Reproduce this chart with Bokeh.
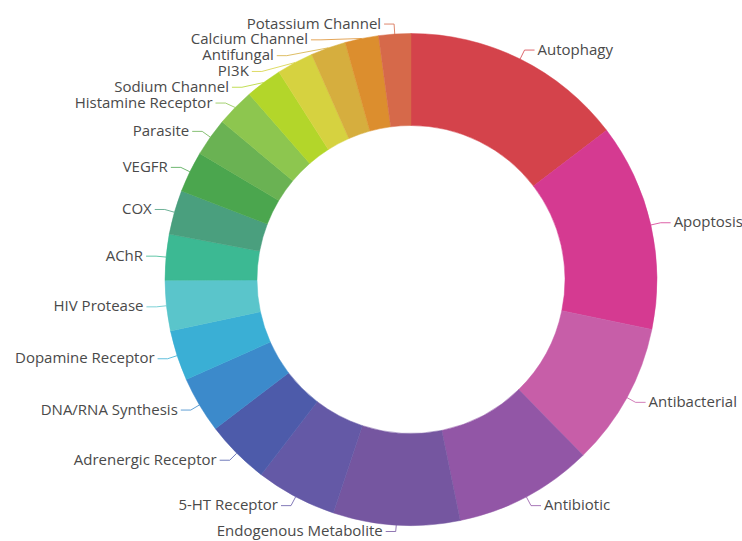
import numpy as np
from bokeh.plotting import figure
from bokeh.models import ColumnDataSource, Range1d
from bokeh.core.properties import value
from bokeh.embed import file_html
from bokeh.resources import INLINE

categories = ["Autophagy", "Apoptosis", "Antibacterial", "Antibiotic",
              "Endogenous Metabolite", "5-HT Receptor", "Adrenergic Receptor",
              "DNA/RNA Synthesis", "Dopamine Receptor", "HIV Protease", "AChR",
              "COX", "VEGFR", "Parasite", "Histamine Receptor", "Sodium Channel",
              "PI3K", "Antifungal", "Calcium Channel", "Potassium Channel"]
counts = [146, 136, 94, 91, 83, 53, 42, 37, 33, 33, 30, 29, 27, 25, 25, 24, 24, 23, 22, 21]
colors = ["#D4434B", "#D53A91", "#C75EA8", "#9256A6", "#7556A0", "#6459A6",
          "#4D5BAA", "#3C8ACB", "#3AAFD5", "#5AC5CB", "#3CB993", "#4A9F7E",
          "#4BA64E", "#6AB253", "#8DC64F", "#B3D62A", "#D6D240", "#D6AE3E",
          "#DC8E2E", "#D6694A"]

W, H = 742, 541
CX, CY = 410.5, -279.0
R_OUT, R_IN = 246, 154
LEN1, LEN2, GAP = 10, 10, 3
LINE_H = 15.8
BOTTOM = -H + 10

vals = np.array(counts, dtype=float)
frac = vals / vals.sum()
cum_end = np.cumsum(frac) * 2 * np.pi
cum_start = cum_end - frac * 2 * np.pi
mid = (cum_start + cum_end) / 2

wedges = ColumnDataSource(dict(
    start=np.pi / 2 - cum_end,
    end=np.pi / 2 - cum_start,
    color=colors,
    name=categories,
))

p = figure(width=W, height=H, x_range=Range1d(0, W), y_range=Range1d(-H, 0),
           output_backend="svg", toolbar_location=None, min_border=0,
           x_axis_type=None, y_axis_type=None, outline_line_color=None,
           background_fill_color="white", border_fill_color="white")
p.grid.visible = False

p.annular_wedge(x=CX, y=CY, inner_radius=R_IN, outer_radius=R_OUT,
                start_angle="start", end_angle="end", direction="anticlock",
                fill_color="color", line_color="color", line_width=0.5,
                source=wedges)

# label layout
n = len(categories)
sx = np.sin(mid)
cy = np.cos(mid)
p0x = CX + R_OUT * sx
p0y = CY + R_OUT * cy
r1 = R_OUT + LEN1
p1x = CX + r1 * sx
p1y = CY + r1 * cy
side = np.where(sx >= 0, 1, -1)

lx = p1x.copy()
ly = p1y.copy()
for s in (1, -1):
    idx = [i for i in range(n) if side[i] == s]
    idx.sort(key=lambda i: -ly[i])
    for k in range(1, len(idx)):
        a, b = idx[k - 1], idx[k]
        if ly[a] - ly[b] < LINE_H:
            ly[b] = ly[a] - LINE_H
    for i in idx:
        if abs(ly[i] - p1y[i]) > 0.5:
            dy = ly[i] - CY
            if abs(dy) < r1:
                lx[i] = CX + s * np.sqrt(r1 ** 2 - dy ** 2)
    for i in idx:
        if ly[i] < BOTTOM:
            ly[i] = BOTTOM

p2x = lx + side * LEN2
xs = [[p0x[i], lx[i], p2x[i]] for i in range(n)]
ys = [[p0y[i], ly[i], ly[i]] for i in range(n)]
p.multi_line(xs=xs, ys=ys, line_color=colors, line_width=1, line_alpha=0.8)

tx = p2x + side * GAP
for s, align in ((1, "left"), (-1, "right")):
    sel = [i for i in range(n) if side[i] == s]
    src = ColumnDataSource(dict(x=[tx[i] for i in sel], y=[ly[i] for i in sel],
                                t=[categories[i] for i in sel]))
    p.text(x="x", y="y", text="t", source=src, text_align=align,
           text_baseline="middle", y_offset=-1.5, text_font=value("Open Sans"),
           text_font_size="15px", text_color="#4a4a4a")

open("out.html", "w").write(file_html(p, INLINE))
